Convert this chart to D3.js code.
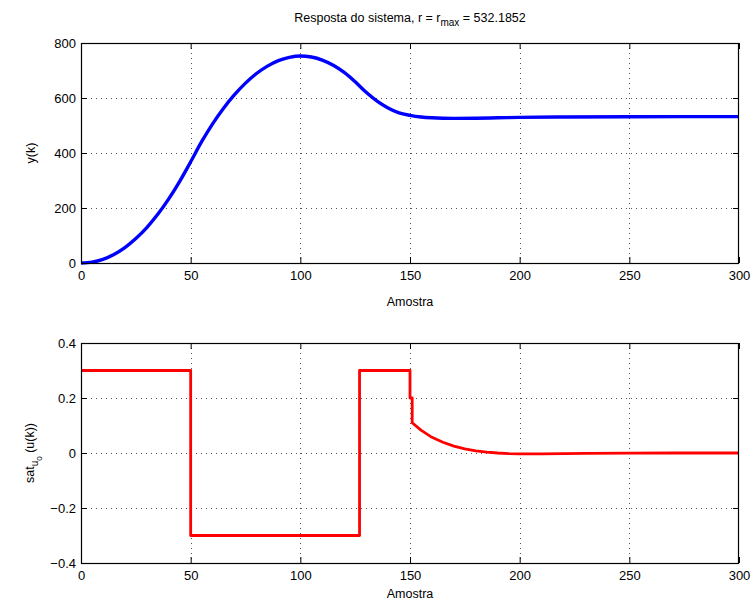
<!DOCTYPE html>
<html>
<head>
<meta charset="utf-8">
<script src="https://cdn.jsdelivr.net/npm/d3@7"></script>
<style>
  html, body { margin: 0; padding: 0; background: #fff; }
  svg { display: block; font-family: "Liberation Sans", Arial, Helvetica, sans-serif; }
</style>
</head>
<body>
<svg id="chart" width="756" height="603"></svg>
<script>
// System output y(k), sampled every few steps
const outputK = [0, 5, 10, 15, 20, 25, 30, 35, 40, 45, 50, 55, 60, 65, 70, 75, 80, 85, 90, 95,
  100, 105, 110, 115, 120, 125, 130, 135, 140, 145, 150, 155, 160, 165, 170, 180, 190,
  200, 220, 250, 300];
const outputY = [0, 3, 13, 31, 56, 89, 129, 177, 233, 297, 368, 441, 506, 563, 612, 654, 689,
  716, 736, 748, 753, 749, 738, 719, 693, 659, 621, 589, 564, 546, 537, 531, 528, 526.5,
  526, 526.5, 528, 529.5, 531, 532, 532.2];

// Saturated control signal sat_u0(u(k)); repeated k values mark the jumps
const controlK = [0, 50, 50, 127, 127, 150, 150, 151, 151, 155, 160, 165, 170, 175, 180, 185,
  190, 195, 200, 210, 220, 230, 250, 270, 300];
const controlU = [0.3, 0.3, -0.3, -0.3, 0.3, 0.3, 0.2, 0.2, 0.11, 0.083, 0.057, 0.039, 0.025,
  0.015, 0.008, 0.003, 0.0, -0.002, -0.003, -0.003, -0.002, -0.0015, -0.0005, 0, 0];

const xTicks = [0, 50, 100, 150, 200, 250, 300];
const topYTicks = [0, 200, 400, 600, 800];
const bottomYTicks = [-0.4, -0.2, 0, 0.2, 0.4];

const svg = d3.select("#chart");
svg.append("rect").attr("width", 756).attr("height", 603).attr("fill", "#fff");

const left = 81, right = 739;
const fontSize = 13;

function panel(top, bottom, yDomain, yTicks, fmt) {
  const x = d3.scaleLinear().domain([0, 300]).range([left, right]);
  const y = d3.scaleLinear().domain(yDomain).range([bottom, top]);
  const g = svg.append("g");

  // dotted grid
  g.selectAll(".gx").data(xTicks.slice(1, -1)).join("line")
    .attr("x1", d => Math.round(x(d)) + 0.5).attr("x2", d => Math.round(x(d)) + 0.5)
    .attr("y1", top).attr("y2", bottom)
    .attr("stroke", "#555").attr("stroke-width", 1).attr("stroke-dasharray", "1,4");
  g.selectAll(".gy").data(yTicks.slice(1, -1)).join("line")
    .attr("y1", d => Math.round(y(d)) + 0.5).attr("y2", d => Math.round(y(d)) + 0.5)
    .attr("x1", left).attr("x2", right)
    .attr("stroke", "#555").attr("stroke-width", 1).attr("stroke-dasharray", "1,4");

  // axes with inward ticks on all four sides
  const tl = 6;
  const ax = g.append("g").attr("transform", `translate(0,${bottom})`)
    .call(d3.axisBottom(x).tickValues(xTicks).tickSizeInner(-tl).tickSizeOuter(0).tickPadding(8));
  const ay = g.append("g").attr("transform", `translate(${left},0)`)
    .call(d3.axisLeft(y).tickValues(yTicks).tickFormat(fmt).tickSizeInner(-tl).tickSizeOuter(0).tickPadding(5));
  const axT = g.append("g").attr("transform", `translate(0,${top})`)
    .call(d3.axisTop(x).tickValues(xTicks).tickSizeInner(-tl).tickSizeOuter(0).tickFormat(""));
  const ayR = g.append("g").attr("transform", `translate(${right},0)`)
    .call(d3.axisRight(y).tickValues(yTicks).tickSizeInner(-tl).tickSizeOuter(0).tickFormat(""));
  [ax, ay, axT, ayR].forEach(a => {
    a.select(".domain").remove();
    a.selectAll(".tick line").attr("stroke", "#000");
    a.selectAll("text").attr("font-size", fontSize).attr("fill", "#000")
      .attr("font-family", "Liberation Sans, Arial, sans-serif");
  });

  return { x, y, g };
}

function frame(top, bottom) {
  svg.append("rect")
    .attr("x", left + 0.5).attr("y", top + 0.5)
    .attr("width", right - left - 1).attr("height", bottom - top)
    .attr("fill", "none").attr("stroke", "#000").attr("stroke-width", 1.2);
}

// ---- upper panel: output response ----
const p1 = panel(43, 263, [0, 800], topYTicks, d3.format("d"));
const outLine = d3.line()
  .x((d, i) => p1.x(outputK[i]))
  .y(d => p1.y(d))
  .curve(d3.curveMonotoneX);
p1.g.append("path").datum(outputY)
  .attr("d", outLine)
  .attr("fill", "none").attr("stroke", "#0000ff").attr("stroke-width", 3.4)
  .attr("stroke-linejoin", "round");
frame(43, 263);

// ---- lower panel: saturated control ----
const p2 = panel(343, 563, [-0.4, 0.4], bottomYTicks, d => d === 0 ? "0" : d3.format(".1f")(d).replace("-", "\u2212"));
const ctrlLine = d3.line()
  .x((d, i) => p2.x(controlK[i]))
  .y(d => p2.y(d))
  .curve(d3.curveLinear);
p2.g.append("path").datum(controlU)
  .attr("d", ctrlLine)
  .attr("fill", "none").attr("stroke", "#ff0000").attr("stroke-width", 2.8)
  .attr("stroke-linejoin", "round");
frame(343, 563);

// ---- texts ----
const title = svg.append("text").attr("x", 410).attr("y", 22)
  .attr("text-anchor", "middle").attr("font-size", 12.5);
title.append("tspan").text("Resposta do sistema, r = r");
title.append("tspan").attr("font-size", 10).attr("dy", 4).text("max");
title.append("tspan").attr("dy", -4).text(" = 532.1852");

svg.append("text").attr("x", 410).attr("y", 306)
  .attr("text-anchor", "middle").attr("font-size", 12.5).text("Amostra");
svg.append("text").attr("x", 410).attr("y", 598)
  .attr("text-anchor", "middle").attr("font-size", 12.5).text("Amostra");

svg.append("text").attr("transform", "translate(35,153) rotate(-90)")
  .attr("text-anchor", "middle").attr("font-size", 12.5).text("y(k)");

const yl = svg.append("text").attr("transform", "translate(34,453) rotate(-90)")
  .attr("text-anchor", "middle").attr("font-size", 12.5);
yl.append("tspan").text("sat");
yl.append("tspan").attr("font-size", 10).attr("dy", 4).text("u");
yl.append("tspan").attr("font-size", 8).attr("dy", 4).text("0");
yl.append("tspan").attr("dy", -8).text(" (u(k))");
</script>
</body>
</html>
